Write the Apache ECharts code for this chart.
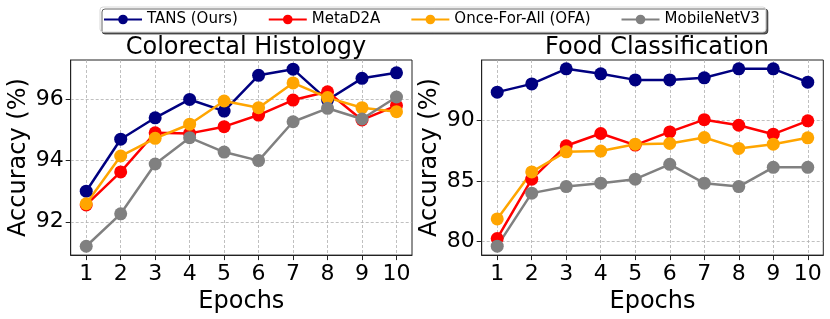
<!DOCTYPE html>
<html>
<head>
<meta charset="utf-8">
<script src="https://cdn.jsdelivr.net/npm/echarts@6/dist/echarts.min.js"></script>
<style>html,body{margin:0;padding:0;background:#fff}#c{width:830px;height:319px}</style>
</head>
<body>
<div id="c"></div>
<script>
const epochs = [1, 2, 3, 4, 5, 6, 7, 8, 9, 10];
const seriesNames = ['TANS (Ours)', 'MetaD2A', 'Once-For-All (OFA)', 'MobileNetV3'];
const colors = ['#000080', '#ff0000', '#ffa500', '#808080'];
// Colorectal Histology
const tansCH = [93.0, 94.7, 95.4, 96.0, 95.62, 96.79, 96.99, 95.98, 96.69, 96.87];
const metaCH = [92.55, 93.63, 94.91, 94.89, 95.11, 95.49, 95.98, 96.25, 95.33, 95.80];
const ofaCH  = [92.59, 94.15, 94.73, 95.19, 95.95, 95.73, 96.54, 96.06, 95.73, 95.60];
const mbCH   = [91.2, 92.26, 93.89, 94.75, 94.28, 94.0, 95.27, 95.71, 95.36, 96.08];
// Food Classification
const tansFC = [92.32, 93.0, 94.24, 93.83, 93.33, 93.33, 93.5, 94.24, 94.24, 93.14];
const metaFC = [80.25, 85.14, 87.9, 88.91, 87.95, 89.04, 90.05, 89.59, 88.85, 89.95];
const ofaFC  = [81.86, 85.74, 87.4, 87.46, 88.03, 88.09, 88.58, 87.68, 88.03, 88.55];
const mbFC   = [79.62, 83.99, 84.53, 84.81, 85.14, 86.37, 84.81, 84.53, 86.12, 86.12];
// tick labels
const xTicks = [1, 2, 3, 4, 5, 6, 7, 8, 9, 10];
const yTicksCH = [92, 94, 96];
const yTicksFC = [80, 85, 90];

const FONT = 'DejaVu Sans';
const chart = echarts.init(document.getElementById('c'), null, {renderer: 'canvas'});

function xAxis(gi) {
  return {
    type: 'value', gridIndex: gi, min: 0.55, max: 10.45,
    name: 'Epochs', nameLocation: 'middle', nameGap: 30,
    nameTextStyle: {fontFamily: FONT, fontSize: 24, color: '#000'},
    axisLine: {show: true, lineStyle: {color: '#222', width: 1}},
    axisTick: {show: true, customValues: xTicks, length: 5, inside: false, lineStyle: {color: '#222'}},
    axisLabel: {customValues: xTicks, fontFamily: FONT, fontSize: 22, color: '#000', margin: 8},
    splitLine: {show: true, lineStyle: {color: '#b0b0b0', type: [3, 2], width: 0.8}}
  };
}
function yAxis(gi, min, max, ticks) {
  return {
    type: 'value', gridIndex: gi, min: min, max: max,
    name: 'Accuracy (%)', nameLocation: 'middle', nameGap: 40, nameRotate: 90,
    nameTextStyle: {fontFamily: FONT, fontSize: 24, color: '#000'},
    axisLine: {show: true, lineStyle: {color: '#222', width: 1}},
    axisTick: {show: true, customValues: ticks, length: 5, lineStyle: {color: '#222'}},
    axisLabel: {customValues: ticks, fontFamily: FONT, fontSize: 22, color: '#000', margin: 7},
    splitLine: {show: true, lineStyle: {color: '#b0b0b0', type: [3, 2], width: 0.8}}
  };
}
function mk(name, color, ys, gi) {
  return {
    name: name, type: 'line', xAxisIndex: gi, yAxisIndex: gi,
    data: epochs.map((e, i) => [e, ys[i]]),
    symbol: 'circle', symbolSize: 13,
    lineStyle: {color: color, width: 2.5},
    itemStyle: {color: color},
    emphasis: {disabled: true},
    animation: false
  };
}
const option = {
  animation: false,
  backgroundColor: '#fff',
  title: [
    {text: 'Colorectal Histology', left: 241, textAlign: 'center', top: 31,
     textStyle: {fontFamily: FONT, fontSize: 24, fontWeight: 'normal', color: '#000'}},
    {text: 'Food Classification', left: 652, textAlign: 'center', top: 31,
     textStyle: {fontFamily: FONT, fontSize: 24, fontWeight: 'normal', color: '#000'}}
  ],
  legend: {
    data: seriesNames, left: 100, top: 7,
    itemWidth: 38, itemHeight: 12, itemGap: 30,
    padding: [5, 6, 5, 3],
    textStyle: {fontFamily: FONT, fontSize: 15, color: '#000'},
    backgroundColor: '#fff', borderColor: '#d8d8d8', borderWidth: 1, borderRadius: 3,
    shadowColor: 'rgba(0,0,0,0.6)', shadowBlur: 0, shadowOffsetX: 2, shadowOffsetY: 2
  },
  grid: [
    {left: 70.7, top: 60, width: 341.3, height: 195.3, show: true, borderColor: '#222', borderWidth: 1, containLabel: false},
    {left: 481.7, top: 60, width: 341.6, height: 195.3, show: true, borderColor: '#222', borderWidth: 1, containLabel: false}
  ],
  xAxis: [xAxis(0), xAxis(1)],
  yAxis: [yAxis(0, 90.91, 97.29, yTicksCH), yAxis(1, 78.88, 94.97, yTicksFC)],
  series: [
    mk(seriesNames[0], colors[0], tansCH, 0),
    mk(seriesNames[1], colors[1], metaCH, 0),
    mk(seriesNames[2], colors[2], ofaCH, 0),
    mk(seriesNames[3], colors[3], mbCH, 0),
    mk(seriesNames[0], colors[0], tansFC, 1),
    mk(seriesNames[1], colors[1], metaFC, 1),
    mk(seriesNames[2], colors[2], ofaFC, 1),
    mk(seriesNames[3], colors[3], mbFC, 1)
  ]
};
chart.setOption(option);
</script>
</body>
</html>
